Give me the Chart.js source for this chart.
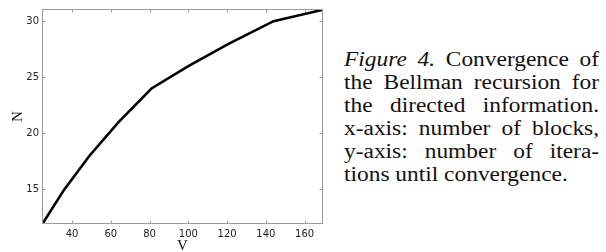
<!DOCTYPE html>
<html><head><meta charset="utf-8">
<script src="https://cdn.jsdelivr.net/npm/chart.js@4/dist/chart.umd.min.js"></script>
<style>
html,body{margin:0;padding:0;background:#fff;width:606px;height:252px;overflow:hidden}
#wrap{position:absolute;left:0;top:0;width:330px;height:252px}
#cap{position:absolute;left:344px;top:48px;width:218px;font-family:"Liberation Serif","Times New Roman",serif;font-size:20px;line-height:23px;color:#111;transform:scaleX(1.17);transform-origin:0 0}
#cap div{text-align:justify;text-align-last:justify}
#cap div.last{text-align:left;text-align-last:left}
</style>
</head><body>
<div id="wrap"><canvas id="c" width="330" height="252"></canvas></div>
<div id="cap">
<div><i>Figure 4.</i> Convergence of</div>
<div>the Bellman recursion for</div>
<div>the directed information.</div>
<div>x-axis: number of blocks,</div>
<div>y-axis: number of itera-</div>
<div class="last">tions until convergence.</div>
</div>
<script>
const V = [25, 36, 49, 64, 81, 100, 121, 144, 169];
const N = [12, 15, 18, 21, 24, 26, 28, 30, 31];
const xTicks = [40, 60, 80, 100, 120, 140, 160];
const yTicks = [15, 20, 25, 30];

const frame = {
  id: 'frame',
  beforeDatasetsDraw(chart) {
    const {ctx, chartArea: a, scales: {x, y}} = chart;
    const L = Math.round(a.left) - 0.5, R = Math.round(a.right) + 0.5;
    const T = Math.round(a.top) - 0.5, B = Math.round(a.bottom) + 0.5;
    ctx.save();
    ctx.strokeStyle = '#9c9c9c';
    ctx.lineWidth = 1;
    ctx.strokeRect(L, T, R - L, B - T);
    const len = 3;
    ctx.beginPath();
    x.ticks.forEach(t => {
      const px = Math.round(x.getPixelForValue(t.value)) + 0.5;
      ctx.moveTo(px, B); ctx.lineTo(px, B - len);
      ctx.moveTo(px, T); ctx.lineTo(px, T + len);
    });
    y.ticks.forEach(t => {
      const py = Math.round(y.getPixelForValue(t.value)) + 0.5;
      ctx.moveTo(L, py); ctx.lineTo(L + len, py);
      ctx.moveTo(R, py); ctx.lineTo(R - len, py);
    });
    ctx.stroke();
    ctx.restore();
  }
};

new Chart(document.getElementById('c'), {
  type: 'line',
  data: {
    datasets: [{
      data: V.map((v, i) => ({x: v, y: N[i]})),
      borderColor: '#000',
      borderWidth: 2.6,
      pointRadius: 0,
      tension: 0,
      fill: false
    }]
  },
  options: {
    responsive: false,
    animation: false,
    layout: {padding: {top: 3, right: 8, left: 0, bottom: 0}},
    plugins: {legend: {display: false}, tooltip: {enabled: false}},
    scales: {
      x: {
        type: 'linear', min: 25, max: 169,
        afterBuildTicks: s => { s.ticks = xTicks.map(v => ({value: v})); },
        afterFit: s => { s.height = 29; },
        grid: {display: false, drawTicks: false},
        border: {display: false},
        ticks: {color: '#222', font: {family: 'DejaVu Sans', size: 10}, padding: 5, maxRotation: 0, autoSkip: false},
        title: {display: true, text: 'V', color: '#111', font: {family: 'Liberation Serif', size: 15}, padding: {top: 0, bottom: -3}}
      },
      y: {
        type: 'linear', min: 12, max: 31,
        afterBuildTicks: s => { s.ticks = yTicks.map(v => ({value: v})); },
        afterFit: s => { s.width = 43; },
        grid: {display: false, drawTicks: false},
        border: {display: false},
        ticks: {color: '#222', font: {family: 'DejaVu Sans', size: 10}, padding: 4, autoSkip: false},
        title: {display: true, text: 'N', color: '#111', font: {family: 'Liberation Serif', size: 15}, padding: {top: 9, bottom: 0}}
      }
    }
  },
  plugins: [frame]
});
</script>
</body></html>
